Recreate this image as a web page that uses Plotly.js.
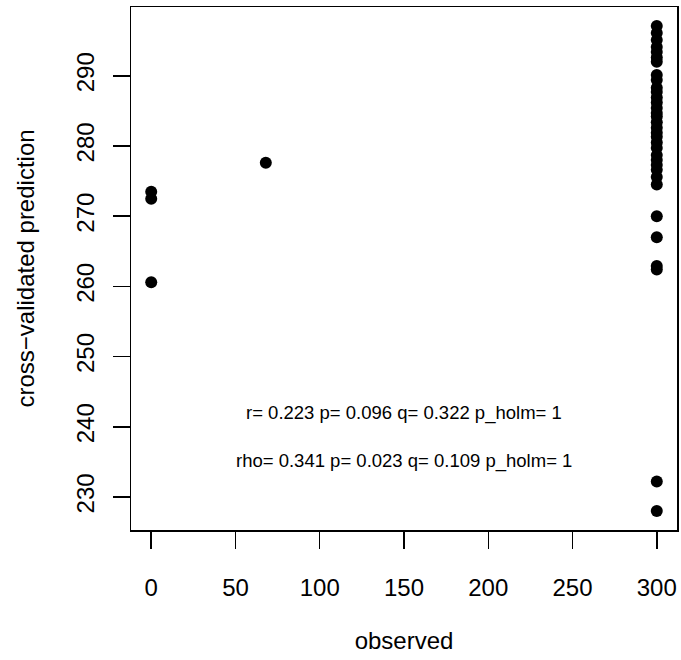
<!DOCTYPE html>
<html>
<head>
<meta charset="utf-8">
<script src="https://cdn.plot.ly/plotly-3.0.1.min.js"></script>
<style>html,body{margin:0;padding:0;background:#fff;}#chart{width:681px;height:660px;}</style>
</head>
<body>
<div id="chart"></div>
<script>
// observed values and cross-validated predictions
const observedLow = [0, 0, 0, 68];
const predictedLow = [273.5, 272.5, 260.6, 277.6];
const predictedAt300 = [297.1, 296.1, 295.1, 294.1, 293.4, 292.6, 292.0, 290.1, 289.4, 288.3,
  287.7, 286.9, 286.2, 285.4, 284.7, 284.2, 283.4, 282.6, 281.9, 281.3, 280.5, 279.7,
  278.7, 278.0, 277.3, 276.6, 275.6, 274.5, 270.0, 267.0, 262.9, 262.4, 232.2, 228.0];
const xTicks = [0, 50, 100, 150, 200, 250, 300];
const yTicks = [230, 240, 250, 260, 270, 280, 290];
const statLabels = ["r= 0.223 p= 0.096 q= 0.322 p_holm= 1", "rho= 0.341 p= 0.023 q= 0.109 p_holm= 1"];
const statX = [150, 150];
const statY = [242, 235.2];

const xs = observedLow.concat(predictedAt300.map(() => 300));
const ys = predictedLow.concat(predictedAt300);

const font = "Liberation Sans, Arial, Helvetica, sans-serif";

const data = [{
  x: xs, y: ys, type: 'scatter', mode: 'markers',
  marker: {color: '#000', size: 12, line: {width: 0}},
  hoverinfo: 'skip'
}];

const layout = {
  width: 681, height: 660,
  margin: {l: 131, r: 4, t: 7, b: 130},
  paper_bgcolor: '#fff', plot_bgcolor: '#fff',
  showlegend: false,
  font: {family: font, color: '#000', size: 24},
  xaxis: {
    range: [-12, 312], tickvals: xTicks, ticktext: xTicks.map(String),
    ticks: 'outside', ticklen: 17, tickwidth: 1.5, tickcolor: '#000',
    showline: true, mirror: true, linecolor: '#000', linewidth: 1.5,
    showgrid: false, zeroline: false,
    ticklabelstandoff: 19,
    tickfont: {size: 24, family: font},
    title: {text: 'observed', font: {size: 24, family: font}, standoff: 32}
  },
  yaxis: {
    range: [225.3, 299.8], tickvals: yTicks, ticktext: yTicks.map(String),
    tickangle: -90,
    ticks: 'outside', ticklen: 17, tickwidth: 1.5, tickcolor: '#000',
    showline: true, mirror: true, linecolor: '#000', linewidth: 1.5,
    showgrid: false, zeroline: false,
    ticklabelstandoff: 9,
    tickfont: {size: 24, family: font},
    title: {text: 'cross\u2212validated prediction', font: {size: 24, family: font}, standoff: 30}
  },
  annotations: statLabels.map((t, i) => ({
    x: statX[i], y: statY[i], xref: 'x', yref: 'y', text: t, showarrow: false,
    font: {size: 18.5, family: font, color: '#000'}
  }))
};

Plotly.newPlot('chart', data, layout, {displayModeBar: false, staticPlot: true});
</script>
</body>
</html>
